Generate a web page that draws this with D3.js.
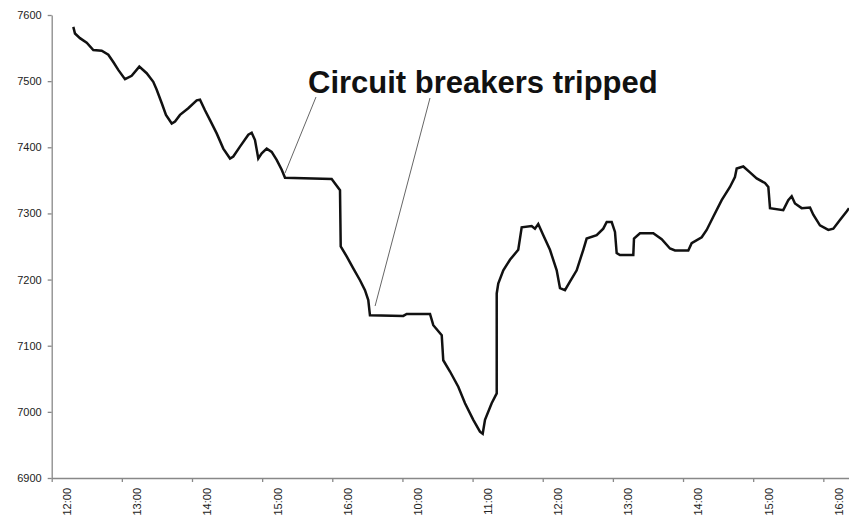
<!DOCTYPE html>
<html lang="en">
<head>
<meta charset="utf-8">
<title>Circuit breakers tripped</title>
<style>
    body { margin: 0; background: #fff; }
    .line { fill: none; stroke: #111; stroke-width: 2.5; stroke-linejoin: miter; }
    .axis path, .axis line { stroke: #888; stroke-width: 1.3; }
    .axis text { font-family: "Liberation Sans", Arial, sans-serif; font-size: 11px; fill: #222; }
    .leader { stroke: #666; stroke-width: 1; }
    .note { font-family: "Liberation Sans", Arial, sans-serif; font-weight: bold; font-size: 31px; fill: #111; }
</style>
</head>
<body>
<div id="chart"></div>
<script src="https://d3js.org/d3.v7.min.js"></script>
<script>
// hour labels, one per tick (two trading sessions)
var hourLabels = ["12:00", "13:00", "14:00", "15:00", "16:00", "10:00",
                  "11:00", "12:00", "13:00", "14:00", "15:00", "16:00"];
var yTicks = [6900, 7000, 7100, 7200, 7300, 7400, 7500, 7600];

// position along the time axis, in hour slots (0 = first 12:00 tick)
var slot = [0.308, 0.332, 0.403, 0.499, 0.593, 0.713, 0.807, 0.878, 0.949, 1.045,
            1.140, 1.249, 1.354, 1.448, 1.497, 1.568, 1.629, 1.711, 1.758, 1.829,
            1.947, 2.067, 2.114, 2.185, 2.257, 2.352, 2.446, 2.542, 2.589, 2.684,
            2.803, 2.851, 2.898, 2.945, 2.994, 3.065, 3.136, 3.207, 3.279, 3.326,
            3.991, 4.110, 4.120, 4.205, 4.299, 4.395, 4.466, 4.513, 4.537, 5.012,
            5.061, 5.393, 5.440, 5.560, 5.582, 5.678, 5.796, 5.892, 6.010, 6.105,
            6.144, 6.177, 6.272, 6.344, 6.344, 6.366, 6.438, 6.533, 6.651, 6.700,
            6.842, 6.889, 6.936, 7.008, 7.103, 7.199, 7.246, 7.317, 7.388, 7.484,
            7.578, 7.626, 7.769, 7.863, 7.912, 7.983, 8.030, 8.054, 8.101, 8.291,
            8.301, 8.386, 8.576, 8.696, 8.814, 8.886, 9.075, 9.123, 9.266, 9.337,
            9.431, 9.551, 9.669, 9.740, 9.765, 9.859, 9.954, 10.050, 10.168, 10.216,
            10.240, 10.429, 10.500, 10.549, 10.596, 10.691, 10.810, 10.857, 10.952, 11.071,
            11.142, 11.237, 11.332, 11.366];

// index level
var level = [7582, 7572, 7565, 7558, 7547, 7546, 7540, 7529, 7517, 7503,
             7508, 7522, 7512, 7499, 7487, 7467, 7449, 7436, 7439, 7449,
             7459, 7471, 7472, 7456, 7441, 7421, 7398, 7383, 7386, 7401,
             7419, 7422, 7411, 7383, 7391, 7398, 7393, 7381, 7366, 7354,
             7352, 7335, 7250, 7235, 7217, 7199, 7184, 7169, 7146, 7145,
             7148, 7148, 7131, 7116, 7078, 7061, 7038, 7013, 6988, 6970,
             6967, 6988, 7013, 7028, 7179, 7194, 7214, 7230, 7245, 7279,
             7281, 7277, 7284, 7267, 7245, 7214, 7187, 7184, 7197, 7214,
             7245, 7262, 7267, 7277, 7287, 7287, 7272, 7240, 7237, 7237,
             7262, 7270, 7270, 7261, 7247, 7244, 7244, 7255, 7264, 7275,
             7295, 7320, 7340, 7355, 7368, 7371, 7362, 7353, 7346, 7340,
             7308, 7305, 7320, 7326, 7315, 7308, 7309, 7298, 7282, 7275,
             7277, 7290, 7303, 7308];

// where the two leader lines end, just above the series
var breakerSlot = [3.326, 4.61];
var breakerLevel = [7361, 7160];

var dataset = slot.map(function(s, i) { return { x: s, y: level[i] }; });

var W = 849, H = 521;
var svg = d3.select("#chart").append("svg")
    .attr("width", W)
    .attr("height", H);

var xScale = d3.scaleLinear()
    .domain([0, 11.366])
    .range([51.7, 849]);

var yScale = d3.scaleLinear()
    .domain([6900, 7600])
    .range([478, 15]);

// y-axis
svg.append("g")
    .attr("class", "axis")
    .attr("transform", "translate(51.7,0)")
    .call(d3.axisLeft(yScale)
        .tickValues(yTicks)
        .tickFormat(d3.format("d"))
        .tickSize(4).tickSizeOuter(0).tickPadding(6));

// x-axis, labels rotated and sitting just right of each tick
var xAxis = svg.append("g")
    .attr("class", "axis")
    .attr("transform", "translate(0," + yScale(6900) + ")")
    .call(d3.axisBottom(xScale)
        .tickValues(d3.range(hourLabels.length))
        .tickFormat(function(d) { return hourLabels[d]; })
        .tickSize(4).tickSizeOuter(0));

xAxis.selectAll(".tick text")
    .attr("y", 0)
    .attr("dy", "0.35em")
    .style("text-anchor", "end")
    .attr("transform", "translate(15,10) rotate(-90)");

var line = d3.line()
    .x(function(d) { return xScale(d.x); })
    .y(function(d) { return yScale(d.y); });

svg.append("path")
    .datum(dataset)
    .attr("class", "line")
    .attr("d", line);

// annotation
var leaderTop = [[316, 97], [430, 98]];
breakerSlot.forEach(function(s, i) {
    svg.append("line")
        .attr("class", "leader")
        .attr("x1", leaderTop[i][0])
        .attr("y1", leaderTop[i][1])
        .attr("x2", xScale(s))
        .attr("y2", yScale(breakerLevel[i]));
});

svg.append("text")
    .attr("class", "note")
    .attr("x", 308)
    .attr("y", 93)
    .text("Circuit breakers tripped");
</script>
</body>
</html>
